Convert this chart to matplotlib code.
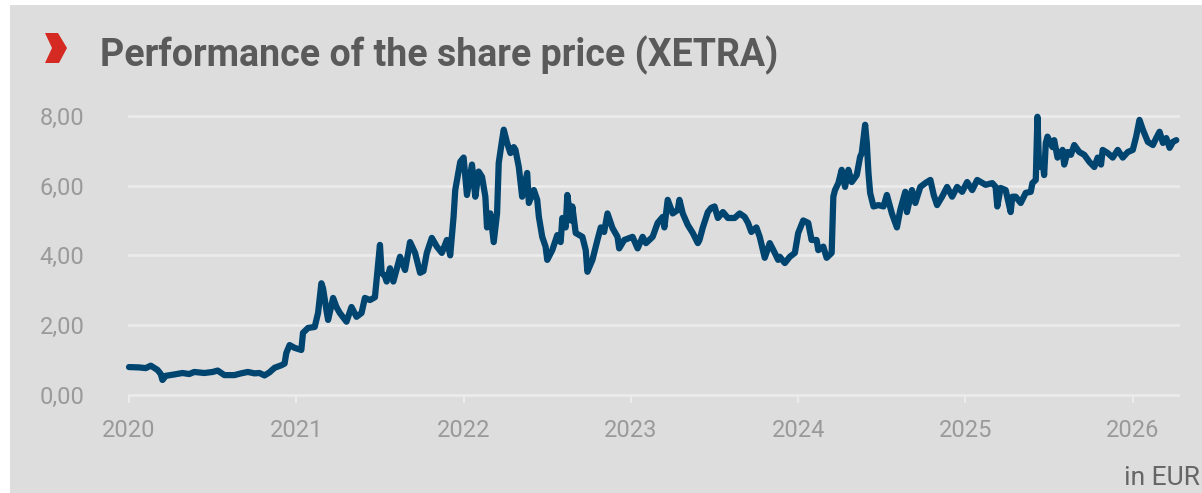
import matplotlib
matplotlib.use("Agg")
import matplotlib.pyplot as plt
from matplotlib.patches import Rectangle, Polygon

# ---- data (decimal year, share price EUR) ----
years = [
    2020.00, 2020.06, 2020.10, 2020.13, 2020.15, 2020.17, 2020.19, 2020.20, 2020.22, 2020.26,
    2020.32, 2020.36, 2020.39, 2020.45, 2020.50, 2020.53, 2020.57, 2020.63, 2020.67, 2020.71,
    2020.75, 2020.78, 2020.81, 2020.84, 2020.87, 2020.91, 2020.93, 2020.94, 2020.96, 2020.99,
    2021.03, 2021.04, 2021.07, 2021.11, 2021.13, 2021.15, 2021.16, 2021.18, 2021.19, 2021.22,
    2021.24, 2021.26, 2021.30, 2021.33, 2021.36, 2021.39, 2021.41, 2021.44, 2021.47, 2021.48,
    2021.50, 2021.51, 2021.53, 2021.54, 2021.56, 2021.58, 2021.62, 2021.65, 2021.68, 2021.71,
    2021.74, 2021.76, 2021.78, 2021.81, 2021.84, 2021.87, 2021.90, 2021.92, 2021.94, 2021.95,
    2021.98, 2022.00, 2022.02, 2022.05, 2022.07, 2022.09, 2022.11, 2022.13, 2022.14, 2022.16,
    2022.18, 2022.20, 2022.21, 2022.23, 2022.24, 2022.26, 2022.28, 2022.30, 2022.31, 2022.33,
    2022.35, 2022.38, 2022.39, 2022.42, 2022.44, 2022.45, 2022.47, 2022.49, 2022.50, 2022.53,
    2022.56, 2022.58, 2022.59, 2022.61, 2022.62, 2022.64, 2022.65, 2022.67, 2022.71, 2022.73,
    2022.74, 2022.77, 2022.80, 2022.82, 2022.84, 2022.86, 2022.89, 2022.92, 2022.93, 2022.96,
    2023.01, 2023.04, 2023.07, 2023.09, 2023.13, 2023.16, 2023.19, 2023.20, 2023.22, 2023.25,
    2023.28, 2023.29, 2023.31, 2023.34, 2023.37, 2023.40, 2023.41, 2023.43, 2023.46, 2023.48,
    2023.50, 2023.52, 2023.55, 2023.58, 2023.62, 2023.65, 2023.68, 2023.70, 2023.72, 2023.75,
    2023.77, 2023.80, 2023.83, 2023.86, 2023.88, 2023.89, 2023.92, 2023.95, 2023.98, 2024.00,
    2024.03, 2024.06, 2024.08, 2024.11, 2024.12, 2024.15, 2024.17, 2024.20, 2024.21, 2024.22,
    2024.24, 2024.26, 2024.28, 2024.30, 2024.32, 2024.35, 2024.37, 2024.38, 2024.40, 2024.41,
    2024.42, 2024.43, 2024.45, 2024.48, 2024.51, 2024.53, 2024.56, 2024.59, 2024.61, 2024.64,
    2024.65, 2024.68, 2024.70, 2024.73, 2024.76, 2024.79, 2024.81, 2024.83, 2024.86, 2024.89,
    2024.92, 2024.95, 2024.98, 2025.01, 2025.04, 2025.07, 2025.12, 2025.16, 2025.18, 2025.19,
    2025.21, 2025.24, 2025.27, 2025.28, 2025.30, 2025.33, 2025.36, 2025.39, 2025.40, 2025.42,
    2025.43, 2025.44, 2025.46, 2025.47, 2025.48, 2025.49, 2025.52, 2025.53, 2025.55, 2025.58,
    2025.59, 2025.61, 2025.63, 2025.65, 2025.68, 2025.71, 2025.74, 2025.77, 2025.79, 2025.81,
    2025.82, 2025.85, 2025.88, 2025.91, 2025.94, 2025.97, 2026.00, 2026.02, 2026.04, 2026.06,
    2026.09, 2026.12, 2026.14, 2026.16, 2026.18, 2026.20, 2026.22, 2026.24, 2026.26,
]
prices = [
    0.80, 0.79, 0.77, 0.84, 0.78, 0.72, 0.60, 0.43, 0.55, 0.58,
    0.63, 0.60, 0.66, 0.63, 0.66, 0.70, 0.57, 0.57, 0.62, 0.66,
    0.62, 0.63, 0.56, 0.65, 0.78, 0.85, 0.90, 1.20, 1.43, 1.35,
    1.29, 1.78, 1.92, 1.95, 2.35, 3.20, 3.05, 2.43, 2.15, 2.78,
    2.52, 2.35, 2.10, 2.52, 2.24, 2.35, 2.78, 2.72, 2.80, 3.30,
    4.30, 3.50, 3.40, 3.25, 3.63, 3.25, 3.96, 3.58, 4.38, 4.07,
    3.50, 3.55, 4.07, 4.50, 4.25, 4.07, 4.44, 4.00, 5.10, 5.87,
    6.68, 6.80, 5.73, 6.60, 5.68, 6.40, 6.25, 5.68, 4.80, 5.20,
    4.38, 5.20, 6.65, 7.30, 7.60, 7.22, 6.93, 7.10, 7.02, 6.53,
    5.68, 6.36, 5.50, 5.87, 5.59, 5.10, 4.53, 4.25, 3.87, 4.15,
    4.58, 4.38, 5.07, 4.80, 5.73, 5.00, 5.40, 4.64, 4.53, 4.15,
    3.53, 3.87, 4.44, 4.80, 4.67, 5.20, 4.78, 4.53, 4.20, 4.44,
    4.53, 4.20, 4.53, 4.35, 4.53, 4.93, 5.10, 4.80, 5.59, 5.20,
    5.30, 5.59, 5.20, 4.87, 4.64, 4.35, 4.44, 4.80, 5.24, 5.36,
    5.40, 5.07, 5.24, 5.07, 5.07, 5.20, 5.10, 4.93, 4.67, 4.80,
    4.53, 3.93, 4.35, 4.07, 3.87, 3.96, 3.78, 3.96, 4.07, 4.64,
    5.00, 4.93, 4.44, 4.44, 4.15, 4.25, 3.93, 4.07, 5.68, 5.87,
    6.07, 6.45, 5.96, 6.45, 6.10, 6.30, 6.82, 6.93, 7.74, 7.22,
    6.36, 5.79, 5.40, 5.44, 5.40, 5.73, 5.20, 4.80, 5.30, 5.82,
    5.24, 5.87, 5.50, 5.96, 6.07, 6.16, 5.73, 5.44, 5.68, 5.96,
    5.68, 5.96, 5.82, 6.10, 5.87, 6.16, 6.02, 6.07, 5.96, 5.40,
    5.93, 5.87, 5.24, 5.68, 5.68, 5.50, 5.79, 5.82, 6.07, 6.16,
    7.97, 6.53, 6.73, 6.30, 7.22, 7.40, 7.10, 7.30, 6.80, 7.02,
    6.60, 6.96, 6.88, 7.16, 6.96, 6.88, 6.68, 6.53, 6.80, 6.60,
    7.02, 6.93, 6.80, 7.02, 6.80, 6.96, 7.02, 7.40, 7.88, 7.60,
    7.25, 7.16, 7.36, 7.54, 7.22, 7.36, 7.08, 7.25, 7.30,
]
year_ticks = [2020, 2021, 2022, 2023, 2024, 2025, 2026]
y_ticks = [0, 2, 4, 6, 8]
y_tick_labels = ["0,00", "2,00", "4,00", "6,00", "8,00"]
title = "Performance of the share price (XETRA)"
unit_label = "in EUR"

W, H = 1202, 493
BG = "#dddddd"
GRID = "#ebebeb"
LINE = "#004470"
TICKTXT = "#9a9a9a"

plt.rcParams['font.family'] = ['Roboto', 'DejaVu Sans']

fig = plt.figure(figsize=(W / 100, H / 100), dpi=100, facecolor="white")

# grey panel
fig.patches.append(Rectangle((10 / W, 0), 1 - 10 / W, 1 - 5 / H,
                             transform=fig.transFigure, facecolor=BG,
                             edgecolor="none", zorder=-5))

# red chevron
chev = [(45, 33), (58, 33), (67, 48), (59, 63), (45, 63), (52, 48)]
fig.patches.append(Polygon([(x / W, 1 - y / H) for x, y in chev], closed=True,
                           transform=fig.transFigure, facecolor="#d42a21",
                           edgecolor="none", zorder=-4))

fig.text(100 / W, 1 - 66 / H, title, fontsize=27, fontweight="bold",
         color="#5a5a5a", ha="left", va="baseline")
fig.text(1200 / W, 1 - 485 / H, unit_label, fontsize=19, color="#666666",
         ha="right", va="baseline")

x0, x1 = 129, 1178
ybot, ytop = 395, 115.7
ax = fig.add_axes([x0 / W, 1 - ybot / H, (x1 - x0) / W, (ybot - ytop) / H])
ax.set_facecolor("none")
ax.set_zorder(1)
ax.set_xlim(2020, 2020 + (x1 - x0) / 167.3)
ax.set_ylim(0, 8)
for s in ax.spines.values():
    s.set_visible(False)

for v in y_ticks:
    ax.axhline(v, color=GRID, lw=2, zorder=1, clip_on=False)

ax.plot(years, prices, color=LINE, lw=4.5, solid_joinstyle="round",
        solid_capstyle="round", zorder=3, clip_on=False)

ax.set_xticks(year_ticks)
ax.set_xticklabels([str(y) for y in year_ticks])
ax.set_yticks(y_ticks)
ax.set_yticklabels(y_tick_labels)
ax.tick_params(axis="x", length=6, width=1.5, color=GRID, pad=11,
               labelsize=17, labelcolor=TICKTXT, direction="out")
ax.tick_params(axis="y", length=0, pad=32, labelsize=17, labelcolor=TICKTXT)

fig.savefig("out.png", dpi=100, facecolor="white")
